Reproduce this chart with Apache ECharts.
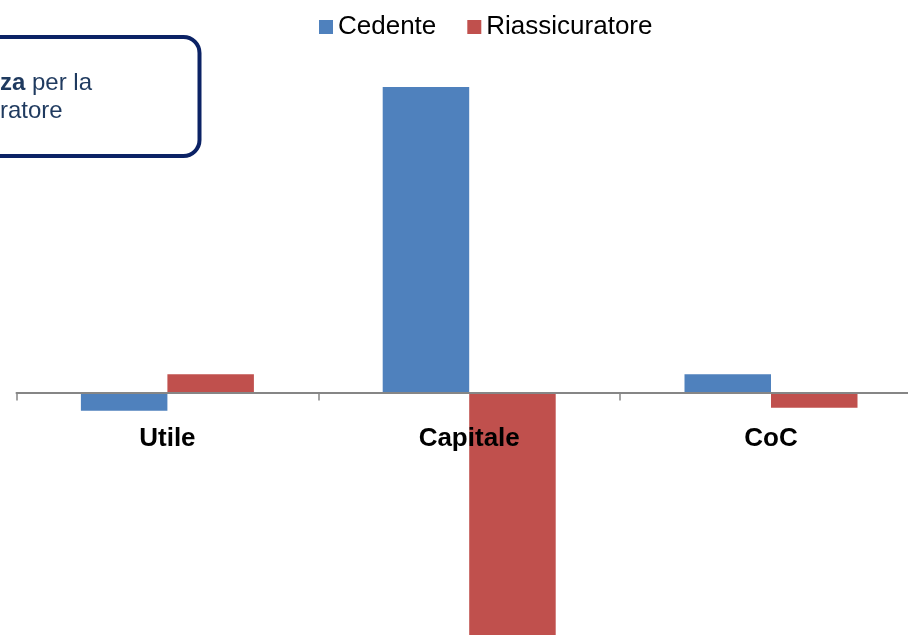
<!DOCTYPE html>
<html>
<head>
<meta charset="utf-8">
<script src="https://cdn.jsdelivr.net/npm/echarts@6/dist/echarts.min.js"></script>
<style>
html,body{margin:0;padding:0;background:#fff;}
#c{width:908px;height:635px;}
</style>
</head>
<body>
<div id="c"></div>
<script>
const categories = ['Utile', 'Capitale', 'CoC'];
const seriesNames = ['Cedente', 'Riassicuratore'];
const cedente = [-6, 100, 6];
const riassicuratore = [6, -100, -5];
const boxLine1Bold = 'za';
const boxLine1Rest = ' per la';
const boxLine2 = 'ratore';

const chart = echarts.init(document.getElementById('c'), null, {renderer: 'canvas'});
const font = '"Liberation Sans", Arial, Helvetica, sans-serif';
chart.setOption({
  animation: false,
  backgroundColor: '#ffffff',
  legend: {
    left: 314,
    top: 9,
    itemWidth: 14,
    itemHeight: 14,
    itemGap: 31,
    icon: 'rect',
    textStyle: {fontFamily: font, fontSize: 26, color: '#000'},
    data: seriesNames
  },
  grid: {left: 16.5, top: 87, width: 905.4, height: 305.5, containLabel: false, outerBoundsMode: 'none'},
  xAxis: {
    type: 'category',
    z: 5,
    data: categories,
    axisLine: {onZero: false, lineStyle: {color: '#868686', width: 2}},
    axisTick: {show: true, length: 8, lineStyle: {color: '#868686', width: 1.5}},
    axisLabel: {fontFamily: font, fontSize: 26, fontWeight: 'bold', color: '#000', margin: 33}
  },
  yAxis: {
    type: 'value',
    min: 0,
    max: 100,
    show: false,
    splitLine: {show: false}
  },
  series: [
    {name: seriesNames[0], type: 'bar', data: cedente, barWidth: 86.5, barGap: '0%', clip: false,
     itemStyle: {color: '#4F81BD'}},
    {name: seriesNames[1], type: 'bar', data: riassicuratore, barWidth: 86.5, barGap: '0%', clip: false,
     itemStyle: {color: '#C0504D'}}
  ],
  graphic: [
    {type: 'rect', z: 100, shape: {x: -30, y: 37, width: 229.5, height: 119, r: 16},
     style: {fill: '#ffffff', stroke: '#0B2265', lineWidth: 4}},
    {type: 'text', z: 101, x: 0, y: 69,
     style: {
       text: '{b|' + boxLine1Bold + '}' + boxLine1Rest + '\n' + boxLine2,
       fontFamily: font, fontSize: 24, lineHeight: 28.5, fill: '#1F3A5F',
       verticalAlign: 'top', align: 'left',
       rich: {b: {fontFamily: font, fontSize: 24, fontWeight: 'bold', fill: '#1F3A5F', lineHeight: 28.5}}
     }}
  ]
});
</script>
</body>
</html>
